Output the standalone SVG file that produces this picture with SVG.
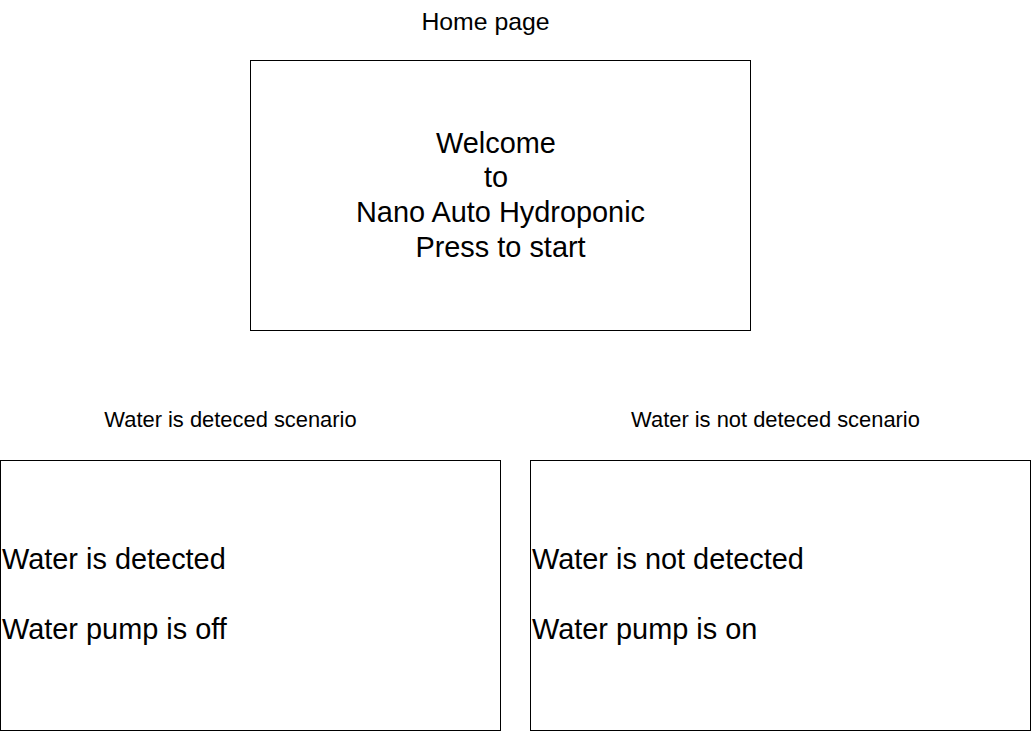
<svg xmlns="http://www.w3.org/2000/svg" width="1031" height="731" viewBox="0 0 1031 731">
<style>
.box{fill:#fff;stroke:#000;stroke-width:1}
text{font-family:"Liberation Sans",Arial,sans-serif;fill:#000}
.lbl{font-size:21.9px;text-anchor:middle}
.big{font-size:28.9px}
.mid{text-anchor:middle}
</style>
<rect width="1031" height="731" fill="#fff"/>
<g id="home-title"><text x="485.5" y="30" style="font-size:24.8px" text-anchor="middle">Home page</text></g>
<g id="home">
<rect class="box" x="250.5" y="60.5" width="500" height="270"/>
<text class="big mid" x="496" y="152.7">Welcome</text>
<text class="big mid" x="496" y="187">to</text>
<text class="big mid" x="500.5" y="222.3">Nano Auto Hydroponic</text>
<text class="big mid" x="500.5" y="256.8">Press to start</text>
</g>
<g id="detected-title"><text class="lbl" x="230.5" y="426.5">Water is deteced scenario</text></g>
<g id="detected">
<rect class="box" x="0.5" y="460.5" width="500" height="270"/>
<text class="big" x="2" y="568.5">Water is detected</text>
<text class="big" x="2" y="639.3">Water pump is off</text>
</g>
<g id="not-detected-title"><text class="lbl" x="775.5" y="426.5">Water is not deteced scenario</text></g>
<g id="not-detected">
<rect class="box" x="530.5" y="460.5" width="500" height="270"/>
<text class="big" x="532" y="568.5">Water is not detected</text>
<text class="big" x="532" y="639.3">Water pump is on</text>
</g>
<g id="connectors"></g>
</svg>
